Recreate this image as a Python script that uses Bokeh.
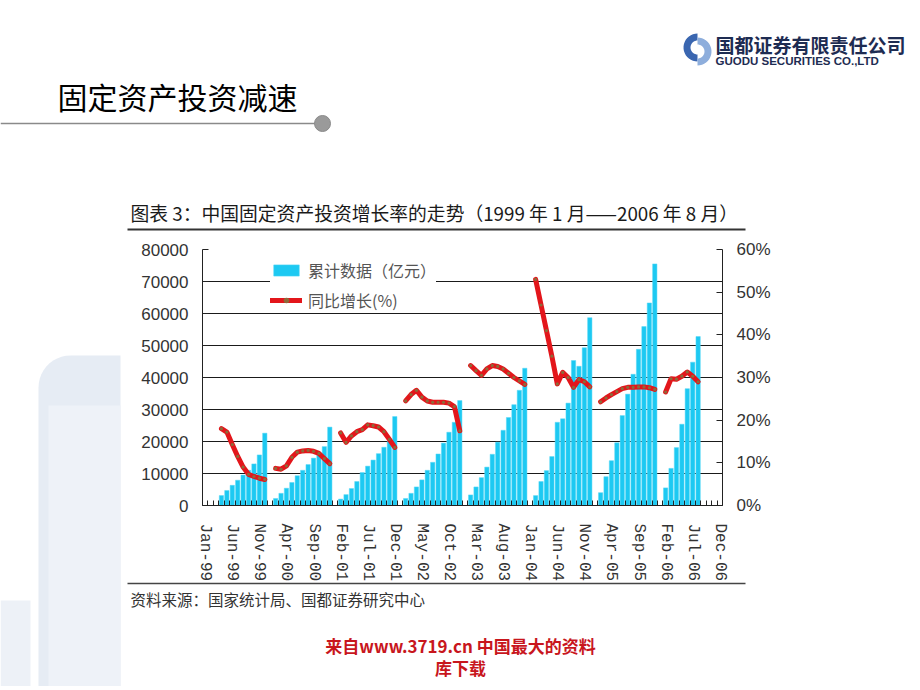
import numpy as np
from bokeh.plotting import figure
from bokeh.models import (Range1d, LinearAxis, FixedTicker, PrintfTickFormatter,
                          Legend, LegendItem, ColumnDataSource)
from bokeh.core.properties import value
from bokeh.embed import file_html
from bokeh.resources import INLINE

# ---------------- data ----------------
years = [1999, 2000, 2001, 2002, 2003, 2004, 2005, 2006]
first_month = [4, 2, 2, 2, 2, 2, 2, 2]          # first month with data each year

# cumulative fixed-asset investment (亿元)
amt_1999 = [3100, 4700, 6300, 7900, 9500, 11000, 13000, 15800, 22600]
amt_2000 = [2200, 3800, 5400, 7200, 9300, 11000, 12800, 14800, 16600, 18400, 24500]
amt_2001 = [2000, 3400, 5300, 7500, 10300, 12300, 14200, 16200, 18200, 20000, 27800]
amt_2002 = [2200, 3800, 5800, 8000, 11000, 13500, 16100, 19500, 22900, 26000, 32800]
amt_2003 = [3300, 5800, 8700, 12000, 16000, 19800, 23500, 27500, 31500, 36000, 42900]
amt_2004 = [3100, 7500, 10900, 15300, 26000, 27100, 32000, 45300, 43500, 49300, 58700]
amt_2005 = [4000, 9000, 14000, 19600, 28100, 34800, 41000, 48800, 55900, 63300, 75500]
amt_2006 = [5500, 11600, 18100, 25400, 36500, 44800, 52800]

# year-on-year growth (%)
g_1999 = [18.0, 17.2, 14.3, 11.5, 9.0, 7.3, 6.8, 6.4, 6.1]
g_2000 = [8.7, 8.5, 9.3, 11.3, 12.5, 12.8, 12.9, 12.7, 12.2, 11.0, 9.8]
g_2001 = [17.0, 14.8, 16.3, 17.3, 17.8, 18.9, 18.7, 18.4, 17.3, 15.5, 13.6]
g_2002 = [24.5, 26.0, 27.0, 25.4, 24.5, 24.2, 24.2, 24.2, 24.0, 23.2, 17.5]
g_2003 = [32.8, 31.6, 30.5, 32.0, 32.8, 32.6, 32.0, 31.0, 30.0, 29.2, 28.4]
g_2004 = [53.0, 47.0, 41.0, 35.0, 28.5, 31.2, 30.0, 27.7, 29.5, 29.0, 27.8]
g_2005 = [24.3, 25.2, 26.0, 26.7, 27.4, 27.7, 27.7, 27.8, 27.8, 27.6, 27.2]
g_2006 = [26.6, 29.7, 29.6, 30.3, 31.3, 30.3, 29.0]

amounts = [amt_1999, amt_2000, amt_2001, amt_2002, amt_2003, amt_2004, amt_2005, amt_2006]
growths = [g_1999, g_2000, g_2001, g_2002, g_2003, g_2004, g_2005, g_2006]

tick_labels = ["Jan-99", "Jun-99", "Nov-99", "Apr-00", "Sep-00", "Feb-01", "Jul-01",
               "Dec-01", "May-02", "Oct-02", "Mar-03", "Aug-03", "Jan-04", "Jun-04",
               "Nov-04", "Apr-05", "Sep-05", "Feb-06", "Jul-06", "Dec-06"]
tick_step = 5
n_months = 96
amt_ticks = list(range(0, 80001, 10000))
pct_ticks = list(range(0, 61, 10))

# ---------------- page geometry ----------------
W, H = 916, 686
FL, FR, FT, FB = 202, 722, 249, 505        # chart plot area in page pixels
AMT_MAX, PCT_MAX = 80000, 60

ppm = (FR - FL) / n_months                  # pixels per month
ppa = (FB - FT) / AMT_MAX                   # pixels per 亿元
ppp = (FB - FT) / PCT_MAX                   # pixels per percent

p = figure(width=W, height=H, x_range=Range1d(0, W), y_range=Range1d(H, 0),
           output_backend="svg", toolbar_location=None,
           x_axis_location=None, y_axis_location=None, min_border=0)
p.outline_line_color = None
p.background_fill_color = "white"
p.border_fill_color = "white"
p.grid.visible = False
p.extra_x_ranges = {"month": Range1d(-FL / ppm, n_months + (W - FR) / ppm)}
p.extra_y_ranges = {"amt": Range1d(-(H - FB) / ppa, AMT_MAX + FT / ppa),
                    "pct": Range1d(-(H - FB) / ppp, PCT_MAX + FT / ppp)}

TXT = "Noto Sans CJK SC"

# ---------------- slide background decoration ----------------
t = np.linspace(np.pi, 1.5 * np.pi, 12)
p.patch([38] + list(70 + 32 * np.cos(t)) + [120, 120],
        [690] + list(387 + 32 * np.sin(t)) + [355, 690],
        fill_color="#E6ECF4", line_color=None)
p.patch([48, 48, 120, 120], [690, 405, 405, 690], fill_color="#EEF2F8", line_color=None)
p.patch([0, 0, 30, 30], [690, 600, 600, 690], fill_color="#EDF1F7", line_color=None)

# ---------------- chart ----------------
grid_y = amt_ticks[1:-1]
p.segment(x0=[0] * len(grid_y), x1=[n_months] * len(grid_y), y0=grid_y, y1=grid_y,
          x_range_name="month", y_range_name="amt", line_color="#1a1a1a", line_width=1)

bx, bt = [], []
for yr, fm, vals in zip(years, first_month, amounts):
    for i, v in enumerate(vals):
        bx.append((yr - 1999) * 12 + (fm - 1) + i + 0.5)
        bt.append(v)
bars = p.vbar(x="x", top="top", width=0.8, bottom=0,
              source=ColumnDataSource(dict(x=bx, top=bt)),
              x_range_name="month", y_range_name="amt",
              fill_color="#1DC9F2", line_color="#58D8F6", line_width=0.5)

line_rs, dot_rs = [], []
for yr, fm, vals in zip(years, first_month, growths):
    xs = [(yr - 1999) * 12 + (fm - 1) + i + 0.5 for i in range(len(vals))]
    src = ColumnDataSource(dict(x=xs, y=vals))
    lr = p.line("x", "y", source=src, x_range_name="month", y_range_name="pct",
                line_color="#E3161B", line_width=5, line_join="round", line_cap="round")
    dr = p.scatter("x", "y", source=src, x_range_name="month", y_range_name="pct",
                   size=3.2, fill_color="#8E6A3A", line_color=None)
    line_rs.append(lr)
    dot_rs.append(dr)

tick_pos = [i * tick_step + 0.5 for i in range(len(tick_labels))]
xa = LinearAxis(x_range_name="month", y_range_name="amt", fixed_location=0,
                bounds=(0, n_months),
                ticker=FixedTicker(ticks=tick_pos, minor_ticks=list(range(n_months + 1))))
xa.major_label_overrides = {pos: lab for pos, lab in zip(tick_pos, tick_labels)}
xa.major_label_orientation = "vertical"
xa.major_tick_line_color = None
xa.minor_tick_in = 5
xa.minor_tick_out = 0
xa.minor_tick_line_color = "#222"
xa.axis_line_color = "#222"
xa.major_label_text_font = "Liberation Mono"
xa.major_label_text_font_size = "16px"
xa.major_label_text_color = "#333"
xa.major_label_standoff = 12
p.add_layout(xa, "below")

ya = LinearAxis(x_range_name="month", y_range_name="amt", fixed_location=0,
                bounds=(0, AMT_MAX), ticker=FixedTicker(ticks=amt_ticks))
ya.major_tick_in = 6
ya.major_tick_out = 0
ya.minor_tick_line_color = None
ya.axis_line_color = "#222"
ya.major_tick_line_color = "#222"
ya.major_label_text_font = "Liberation Sans"
ya.major_label_text_font_size = "17px"
ya.major_label_text_color = "#333"
ya.major_label_standoff = 14
p.add_layout(ya, "left")

ra = LinearAxis(x_range_name="month", y_range_name="pct", fixed_location=n_months,
                bounds=(0, PCT_MAX), ticker=FixedTicker(ticks=pct_ticks),
                formatter=PrintfTickFormatter(format="%d%%"))
ra.major_tick_in = 6
ra.major_tick_out = 0
ra.minor_tick_line_color = None
ra.axis_line_color = "#222"
ra.major_tick_line_color = "#222"
ra.major_label_text_font = "Liberation Sans"
ra.major_label_text_font_size = "17px"
ra.major_label_text_color = "#333"
ra.major_label_standoff = 14
p.add_layout(ra, "right")

legend = Legend(items=[LegendItem(label="累计数据（亿元）", renderers=[bars]),
                       LegendItem(label="同比增长(%)", renderers=[line_rs[0], dot_rs[0]])],
                location=(270, H - 312), orientation="vertical")
legend.label_text_font = TXT
legend.label_text_font_size = "16px"
legend.label_text_color = "#555"
legend.glyph_width = 32
legend.glyph_height = 14
legend.label_standoff = 6
legend.padding = 10
legend.spacing = 6
legend.margin = 0
legend.border_line_color = None
legend.background_fill_color = "white"
legend.background_fill_alpha = 1
p.add_layout(legend)

# ---------------- slide texts and rules (page pixels) ----------------
def ptext(x, y, s, size, color="#111", style="normal", align="left", font=TXT):
    p.text(x=[x], y=[y], text=[s], text_font=value(font), text_font_size=value(size),
           text_color=color, text_font_style=style, text_align=align,
           text_baseline="middle")

ptext(57, 95, "固定资产投资减速", "30px", "#000")
p.segment(x0=[0], y0=[123], x1=[316], y1=[123], line_color="#8A8A8A", line_width=1.5)
p.scatter(x=[322], y=[123], size=16, fill_color="#9A9A9A", line_color="#8A8A8A")

aa = np.linspace(0.5 * np.pi, 1.5 * np.pi, 20)
p.patch(list(697 + 14 * np.cos(aa)) + list(697 + 7 * np.cos(aa[::-1])),
        list(47 + 14 * np.sin(aa)) + list(47 + 7 * np.sin(aa[::-1])),
        fill_color="#3A66B0", line_color=None)
ab = np.linspace(-0.5 * np.pi, 0.5 * np.pi, 20)
p.patch(list(697 + 14 * np.cos(ab)) + list(697 + 7 * np.cos(ab[::-1])),
        list(51 + 14 * np.sin(ab)) + list(51 + 7 * np.sin(ab[::-1])),
        fill_color="#8EAEDC", line_color=None)
ptext(715, 44, "国都证券有限责任公司", "19px", "#1E2C52", style="bold")
ptext(715, 60, "GUODU SECURITIES CO.,LTD", "11.5px", "#1E2C52", style="bold",
      font="Liberation Sans")

ptext(130, 212, "图表 3：中国固定资产投资增长率的走势（1999 年 1 月——2006 年 8 月）",
      "18.8px", "#1a1a1a")
p.segment(x0=[127, 127], y0=[229, 583], x1=[745, 745], y1=[229, 583],
          line_color=["#333", "#444"], line_width=[2, 1.5])
ptext(130, 598, "资料来源：国家统计局、国都证券研究中心", "15.5px", "#333")

ptext(460, 645, "来自www.3719.cn 中国最大的资料", "17px", "#C8161D", style="bold",
      align="center")
ptext(460, 667, "库下载", "17px", "#C8161D", style="bold", align="center")

open("out.html", "w").write(file_html(p, INLINE))
